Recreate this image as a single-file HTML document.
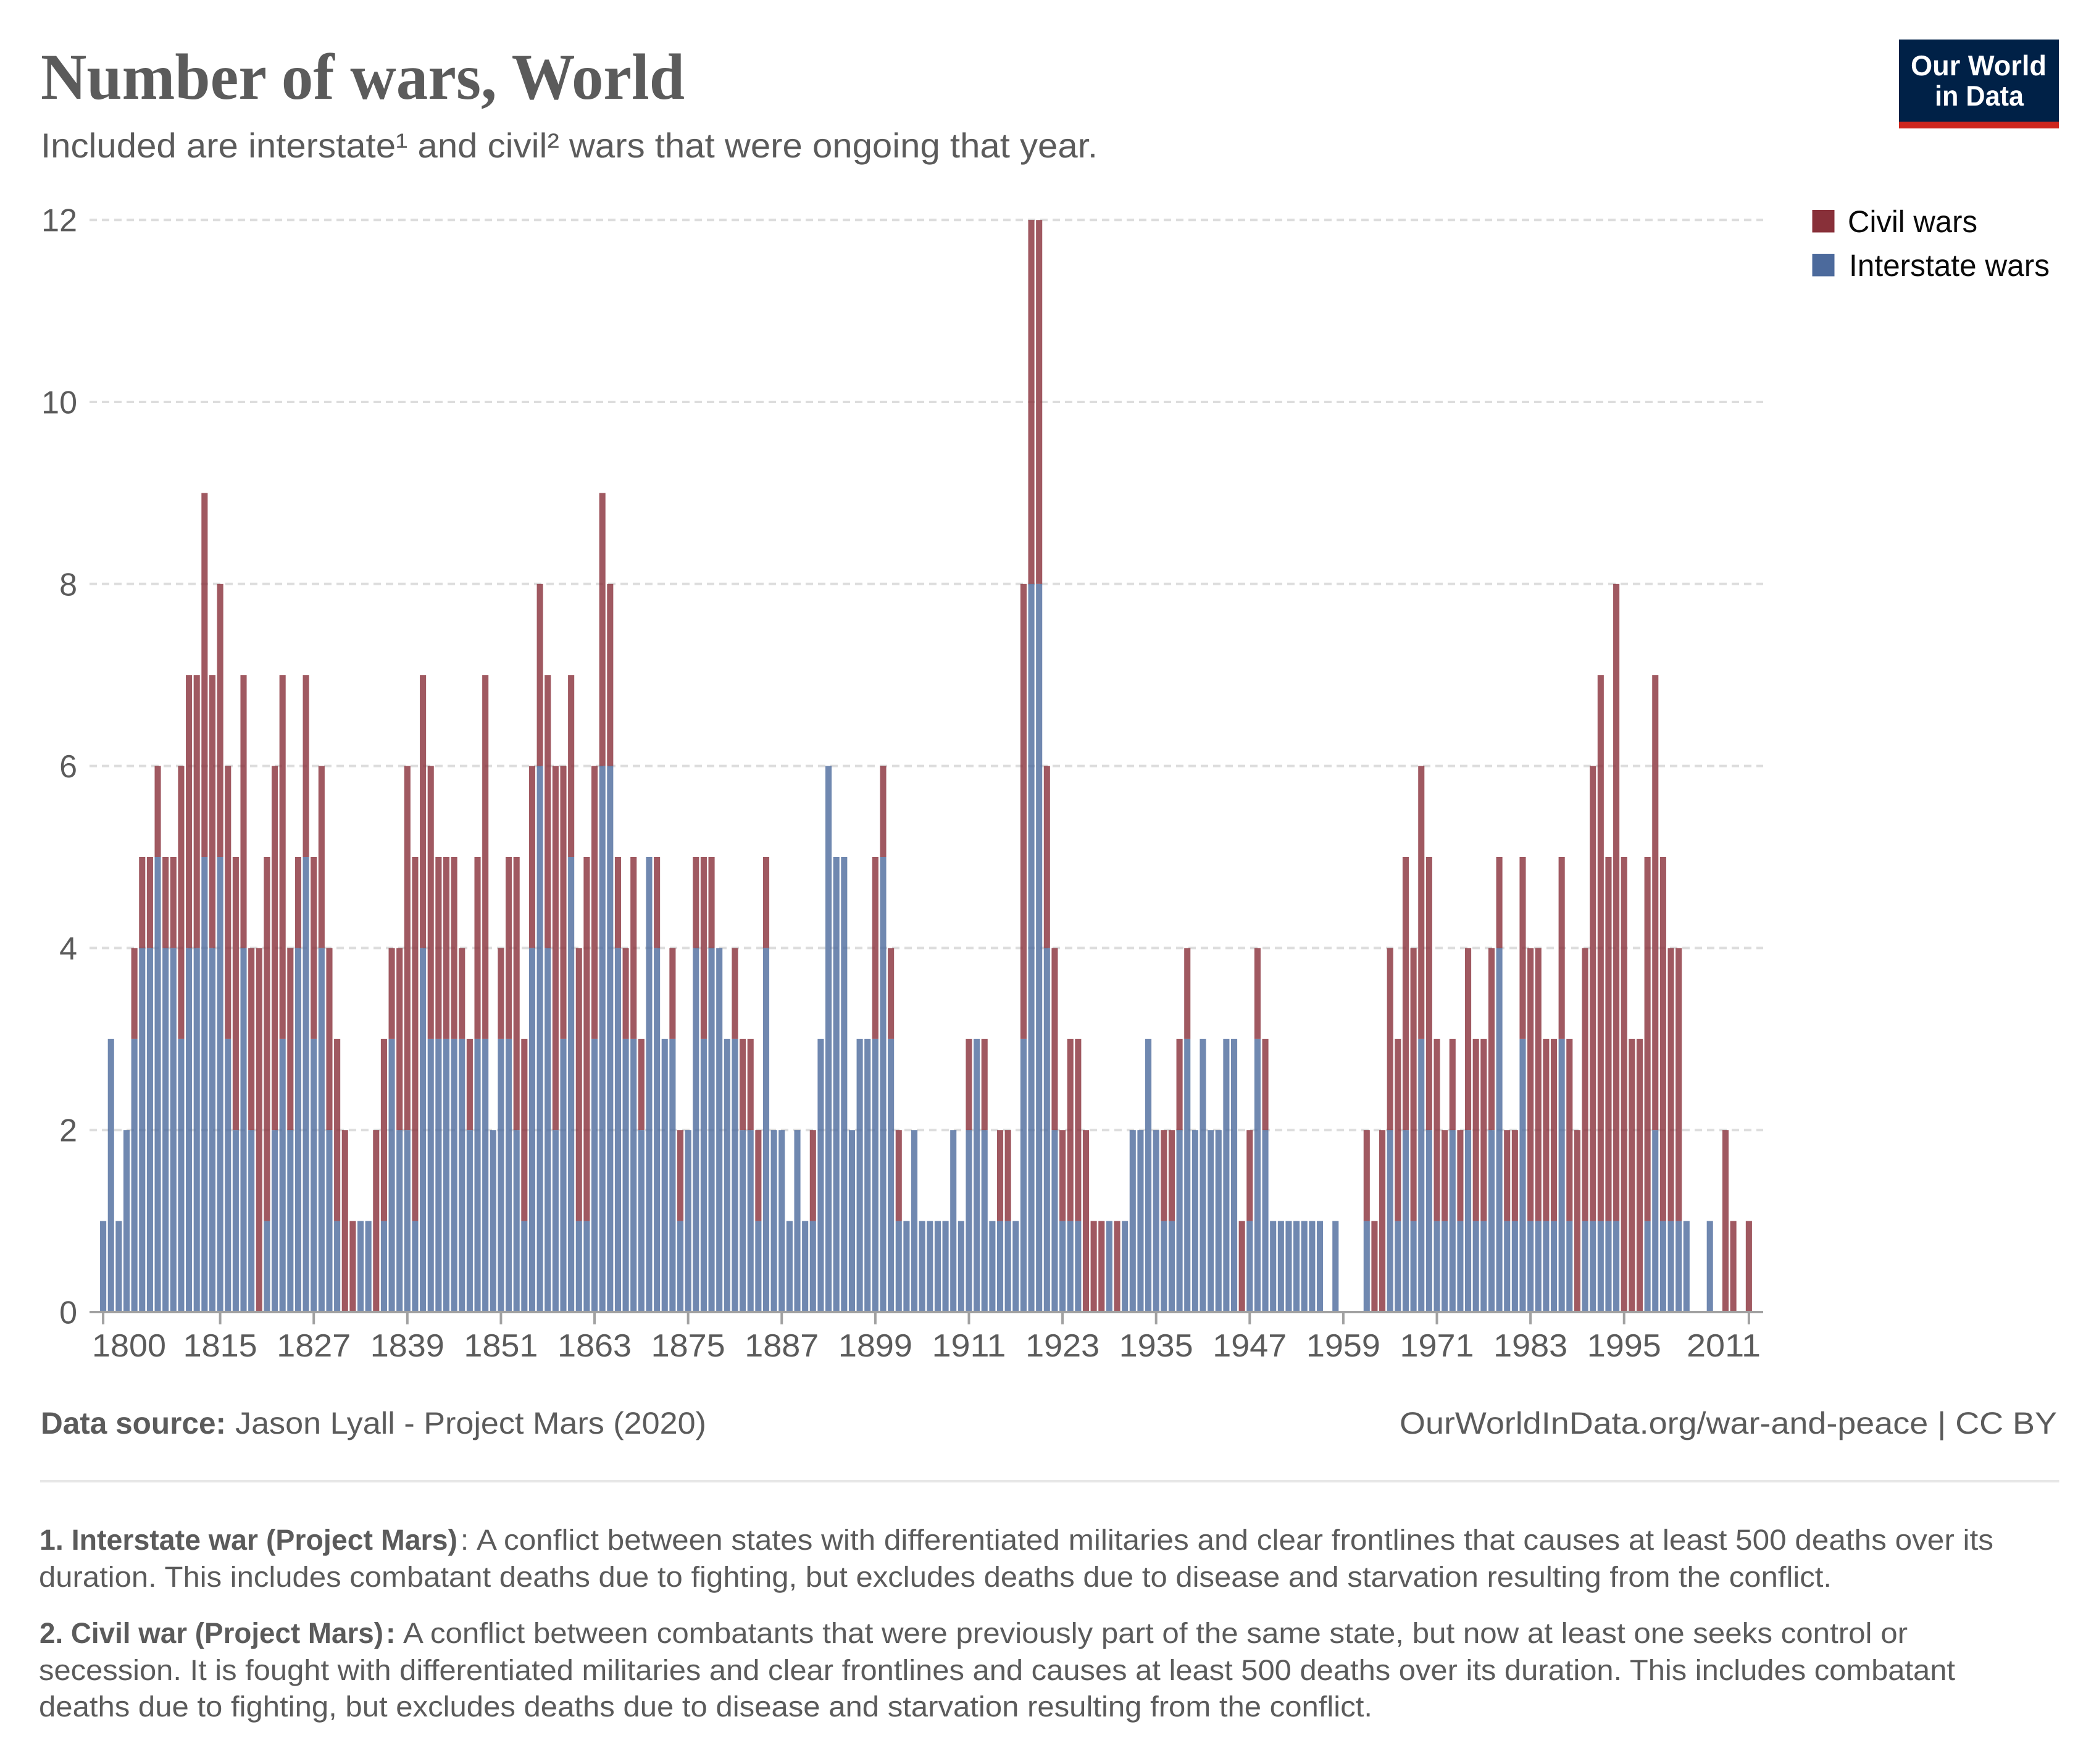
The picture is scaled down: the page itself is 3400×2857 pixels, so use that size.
<!DOCTYPE html>
<html lang="en">
<head>
<meta charset="utf-8">
<title>Number of wars, World</title>
<style>
html,body{margin:0;padding:0;background:#fff;width:3400px;height:2857px;overflow:hidden}
svg{display:block}
text{font-family:"Liberation Sans",sans-serif;fill:#5b5b5b;text-rendering:geometricPrecision}
.title{font-family:"Liberation Serif",serif;font-weight:700;font-size:106px}
.sub{font-size:56px}
.src{font-size:50px}
.note{font-size:47px}
.b{font-weight:700}
.leg{font-size:50px;fill:#0a0a0a}
.logo{font-size:46px;font-weight:700;fill:#fff}
.tick{font-size:52px}
</style>
</head>
<body>
<svg id="chart" xmlns="http://www.w3.org/2000/svg" width="3400" height="2857" viewBox="0 0 3400 2857">
  <rect x="0" y="0" width="3400" height="2857" fill="#ffffff"/>

  <text class="title" x="66" y="160" textLength="1043" lengthAdjust="spacingAndGlyphs">Number of wars, World</text>
  <text class="sub" x="66" y="255" textLength="1712" lengthAdjust="spacingAndGlyphs">Included are interstate¹ and civil² wars that were ongoing that year.</text>

  <g>
    <rect x="3076" y="64" width="259" height="134" fill="#002147"/>
    <rect x="3076" y="197" width="259" height="11" fill="#ce261e"/>
    <text class="logo" x="3095" y="122" textLength="220" lengthAdjust="spacingAndGlyphs">Our World</text>
    <text class="logo" x="3134" y="171" textLength="144" lengthAdjust="spacingAndGlyphs">in Data</text>
  </g>

  <g id="grid"></g>
  <g id="bars"></g>
  <g id="axes"></g>

  <g>
    <g>
      <rect x="2935.5" y="340" width="36" height="36.5" fill="#883039"/>
      <text class="leg" x="2993" y="376" textLength="210" lengthAdjust="spacingAndGlyphs">Civil wars</text>
    </g>
    <g>
      <rect x="2935.5" y="411" width="36" height="36.5" fill="#4c6a9c"/>
      <text class="leg" x="2995" y="447" textLength="325" lengthAdjust="spacingAndGlyphs">Interstate wars</text>
    </g>
  </g>

  <text class="src b" x="66" y="2322" textLength="300" lengthAdjust="spacingAndGlyphs">Data source:</text>
  <text class="src" x="381" y="2322" textLength="763" lengthAdjust="spacingAndGlyphs">Jason Lyall - Project Mars (2020)</text>
  <text class="src" x="2267" y="2322" textLength="1065" lengthAdjust="spacingAndGlyphs">OurWorldInData.org/war-and-peace | CC BY</text>

  <rect x="65" y="2397" width="3270.5" height="4" fill="#e7e7e7"/>

  <text class="note b" x="64" y="2510" textLength="677" lengthAdjust="spacingAndGlyphs">1. Interstate war (Project Mars)</text>
  <text class="note" x="746" y="2510">:</text>
  <text class="note" x="772" y="2510" textLength="2457" lengthAdjust="spacingAndGlyphs">A conflict between states with differentiated militaries and clear frontlines that causes at least 500 deaths over its</text>
  <text class="note" x="63" y="2570" textLength="2904" lengthAdjust="spacingAndGlyphs">duration. This includes combatant deaths due to fighting, but excludes deaths due to disease and starvation resulting from the conflict.</text>

  <text class="note b" x="64" y="2661" textLength="557" lengthAdjust="spacingAndGlyphs">2. Civil war (Project Mars)</text>
  <text class="note b" x="625" y="2661">:</text>
  <text class="note" x="653" y="2661" textLength="2437" lengthAdjust="spacingAndGlyphs">A conflict between combatants that were previously part of the same state, but now at least one seeks control or</text>
  <text class="note" x="63" y="2721" textLength="3104" lengthAdjust="spacingAndGlyphs">secession. It is fought with differentiated militaries and clear frontlines and causes at least 500 deaths over its duration. This includes combatant</text>
  <text class="note" x="63" y="2780" textLength="2160" lengthAdjust="spacingAndGlyphs">deaths due to fighting, but excludes deaths due to disease and starvation resulting from the conflict.</text>
</svg>

<script>
const firstYear = 1800;
const interstateWars = [
  1,3,1,2,3,4,4,5,4,4,
  3,4,4,5,4,5,3,2,4,2,
  0,1,2,3,2,4,5,3,4,2,
  1,0,0,1,1,0,1,3,2,2,
  1,4,3,3,3,3,3,2,3,3,
  2,3,3,2,1,4,6,4,2,3,
  5,1,1,3,6,6,4,3,3,2,
  5,4,3,3,1,2,4,3,4,4,
  3,3,2,2,1,4,2,2,1,2,
  1,1,3,6,5,5,2,3,3,3,
  5,3,1,1,2,1,1,1,1,2,
  1,2,3,2,1,1,1,1,3,8,
  8,4,2,1,1,1,0,0,0,1,
  0,1,2,2,3,2,1,1,2,3,
  2,3,2,2,3,3,0,1,3,2,
  1,1,1,1,1,1,1,0,1,0,
  0,0,1,0,0,2,1,2,1,3,
  2,1,1,2,1,2,1,1,2,4,
  1,1,3,1,1,1,1,3,1,0,
  1,1,1,1,1,0,0,0,1,2,
  1,1,1,1,0,0,1,0,0,0,
  0,0
];
const civilWars = [
  0,0,0,0,1,1,1,1,1,1,
  3,3,3,4,3,3,3,3,3,2,
  4,4,4,4,2,1,2,2,2,2,
  2,2,1,0,0,2,2,1,2,4,
  4,3,3,2,2,2,1,1,2,4,
  0,1,2,3,2,2,2,3,4,3,
  2,3,4,3,3,2,1,1,2,1,
  0,1,0,1,1,0,1,2,1,0,
  0,1,1,1,1,1,0,0,0,0,
  0,1,0,0,0,0,0,0,0,2,
  1,1,1,0,0,0,0,0,0,0,
  0,1,0,1,0,1,1,0,5,4,
  4,2,2,1,2,2,2,1,1,0,
  1,0,0,0,0,0,1,1,1,1,
  0,0,0,0,0,0,1,1,1,1,
  0,0,0,0,0,0,0,0,0,0,
  0,0,1,1,2,2,2,3,3,3,
  3,2,1,1,1,2,2,2,2,1,
  1,1,2,3,3,2,2,2,2,2,
  3,5,6,4,7,5,3,3,4,5,
  4,3,3,0,0,0,0,0,2,1,
  0,1
];
const yTicks = [0,2,4,6,8,10,12];
const xTickYears = [1800,1815,1827,1839,1851,1863,1875,1887,1899,1911,1923,1935,1947,1959,1971,1983,1995,2011];

const SVGNS = 'http://www.w3.org/2000/svg';
const plotLeft = 145, plotRight = 2856;
const xScale = function (year) { return 167.1 + 12.634 * (year - firstYear); };
const yScale = function (value) { return 2125 - 147.4 * value; };
const barWidth = 10.1;

const gridG = document.getElementById('grid');
const barsG = document.getElementById('bars');
const axesG = document.getElementById('axes');

yTicks.forEach(function (v) {
  if (v !== 0) {
    const line = document.createElementNS(SVGNS, 'line');
    
    
    line.setAttribute('x1', plotLeft);
    line.setAttribute('x2', plotRight);
    line.setAttribute('y1', yScale(v));
    line.setAttribute('y2', yScale(v));
    line.setAttribute('stroke', '#dddddd');
    line.setAttribute('stroke-width', '4');
    line.setAttribute('stroke-dasharray', '12 8');
    gridG.appendChild(line);
  }
  const label = document.createElementNS(SVGNS, 'text');
  
  
  label.setAttribute('class', 'tick');
  label.setAttribute('x', 125);
  label.setAttribute('y', yScale(v) + 18.5);
  label.setAttribute('text-anchor', 'end');
  label.textContent = String(v);
  axesG.appendChild(label);
});

interstateWars.forEach(function (interstate, i) {
  const year = firstYear + i;
  const civil = civilWars[i];
  const left = xScale(year) - barWidth / 2;
  if (interstate > 0) {
    const blue = document.createElementNS(SVGNS, 'rect');
    
    
    blue.setAttribute('x', left);
    blue.setAttribute('y', yScale(interstate));
    blue.setAttribute('width', barWidth);
    blue.setAttribute('height', yScale(0) - yScale(interstate));
    blue.setAttribute('fill', '#4c6a9c');
    blue.setAttribute('fill-opacity', '0.8');
    barsG.appendChild(blue);
  }
  if (civil > 0) {
    const red = document.createElementNS(SVGNS, 'rect');
    
    
    red.setAttribute('x', left);
    red.setAttribute('y', yScale(interstate + civil));
    red.setAttribute('width', barWidth);
    red.setAttribute('height', yScale(interstate) - yScale(interstate + civil));
    red.setAttribute('fill', '#883039');
    red.setAttribute('fill-opacity', '0.8');
    barsG.appendChild(red);
  }
});

const axisLine = document.createElementNS(SVGNS, 'line');


axisLine.setAttribute('x1', plotLeft);
axisLine.setAttribute('x2', plotRight);
axisLine.setAttribute('y1', yScale(0));
axisLine.setAttribute('y2', yScale(0));
axisLine.setAttribute('stroke', '#a1a1a1');
axisLine.setAttribute('stroke-width', '4');
axesG.appendChild(axisLine);

xTickYears.forEach(function (year) {
  const px = xScale(year);
  const tick = document.createElementNS(SVGNS, 'line');
  
  
  tick.setAttribute('x1', px);
  tick.setAttribute('x2', px);
  tick.setAttribute('y1', yScale(0));
  tick.setAttribute('y2', yScale(0) + 20);
  tick.setAttribute('stroke', '#a1a1a1');
  tick.setAttribute('stroke-width', '4');
  axesG.appendChild(tick);

  const labelWidth = 120;
  const cx = Math.min(Math.max(px, 149 + labelWidth / 2), 2852 - labelWidth / 2);
  const label = document.createElementNS(SVGNS, 'text');
  
  
  label.setAttribute('class', 'tick');
  label.setAttribute('x', cx - labelWidth / 2);
  label.setAttribute('y', 2197);
  label.setAttribute('textLength', labelWidth);
  label.setAttribute('lengthAdjust', 'spacingAndGlyphs');
  label.textContent = String(year);
  axesG.appendChild(label);
});
</script>
</body>
</html>
